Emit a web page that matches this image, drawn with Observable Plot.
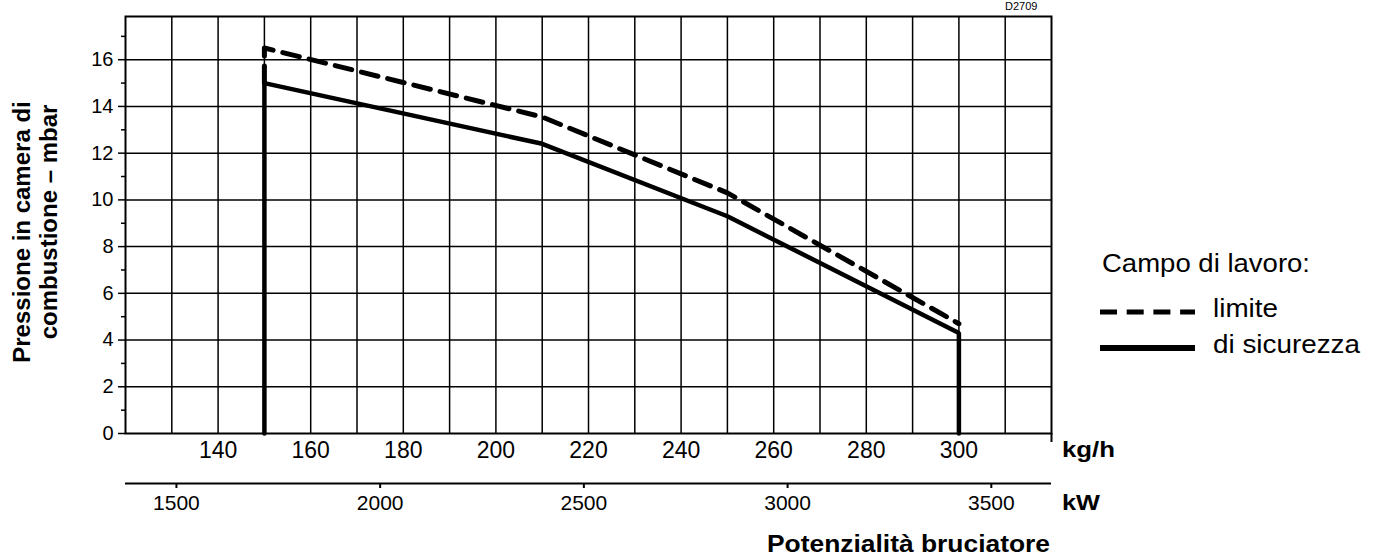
<!DOCTYPE html>
<html>
<head>
<meta charset="utf-8">
<script src="https://cdn.jsdelivr.net/npm/d3@7"></script>
<script src="https://cdn.jsdelivr.net/npm/@observablehq/plot@0.6"></script>
<style>
  html, body { margin: 0; padding: 0; background: #fff; }
  svg { display: block; }
</style>
</head>
<body>
<div id="chart"></div>
<script>
// ---- data ----
const kgTicks = [140, 160, 180, 200, 220, 240, 260, 280, 300];
const kgGrid = [130, 140, 150, 160, 170, 180, 190, 200, 210, 220, 230, 240, 250, 260, 270, 280, 290, 300, 310];
const kwTicks = [1500, 2000, 2500, 3000, 3500];
const kwBase = 1500, kgAtKwBase = 131.0, kgPerKw = 0.0880; // kW scale as drawn under kg/h
const pTicks = [0, 2, 4, 6, 8, 10, 12, 14, 16];
const pMinor = [1, 3, 5, 7, 9, 11, 13, 15, 17];

const limiteX = [150, 150, 210, 250, 300];
const limiteY = [15.0, 16.5, 13.55, 10.3, 4.7];
const sicurezzaX = [150, 150, 210, 250, 300, 300];
const sicurezzaY = [0, 15.0, 12.4, 9.3, 4.3, 0];

const kwToKg = kw => kgAtKwBase + kgPerKw * (kw - kwBase);
const limite = limiteX.map((x, i) => ({x, y: limiteY[i]}));
const sicurezza = sicurezzaX.map((x, i) => ({x, y: sicurezzaY[i]}));
const kwPos = kwTicks.map(kwToKg);

const font = "'Liberation Sans', Arial, Helvetica, sans-serif";

const chart = Plot.plot({
  width: 1379,
  height: 556,
  marginTop: 16,
  marginBottom: 123,
  marginLeft: 125,
  marginRight: 328,
  style: {fontFamily: font, color: "#000", background: "#fff", overflow: "visible"},
  x: {domain: [120, 320]},
  y: {domain: [0, 17.85]},
  marks: [
    Plot.gridX(kgGrid, {stroke: "#000", strokeOpacity: 1, strokeWidth: 1.5}),
    Plot.gridY(pTicks.filter(d => d > 0), {stroke: "#000", strokeOpacity: 1, strokeWidth: 1.5}),
    Plot.line(sicurezza, {x: "x", y: "y", stroke: "#000", strokeWidth: 4.5, strokeLinejoin: "miter"}),
    Plot.line(limite, {x: "x", y: "y", stroke: "#000", strokeWidth: 5, strokeDasharray: "17,10"}),
    Plot.frame({stroke: "#000", strokeWidth: 2}),
    Plot.axisY(pTicks, {tickSize: 7, tickPadding: 5, fontSize: 20, strokeWidth: 1.5, label: null}),
    Plot.axisY(pMinor, {tickSize: 4, tickFormat: () => "", strokeWidth: 1.5, label: null}),
    Plot.axisX(kgTicks, {tickSize: 0, tickPadding: 8, fontSize: 23, label: null}),
    Plot.axisX([320], {tickSize: 9, tickFormat: () => "", strokeWidth: 2, label: null}),
    Plot.ruleY([0], {dy: 50, stroke: "#000", strokeWidth: 2}),
    Plot.axisX(kwPos, {
      dy: 50, tickSize: 5, tickPadding: 7, fontSize: 21, strokeWidth: 2, label: null,
      tickFormat: d => String(kwTicks[kwPos.findIndex(p => Math.abs(p - d) < 1e-6)])
    })
  ]
});

document.getElementById("chart").append(chart);

// ---- titles and legend (layout text) ----
const svg = d3.select(chart);
const g = svg.append("g").attr("font-family", font).attr("fill", "#000");

function label(txt, x, y, opts = {}) {
  const t = g.append("text").attr("x", x).attr("y", y).text(txt)
    .attr("font-size", opts.size || 22)
    .attr("font-weight", opts.bold ? "bold" : "normal")
    .attr("text-anchor", opts.anchor || "start");
  if (opts.len) t.attr("textLength", opts.len).attr("lengthAdjust", "spacingAndGlyphs");
  if (opts.rotate) t.attr("transform", `rotate(-90, ${x}, ${y})`);
  return t;
}

// y title (two rotated lines)
label("Pressione in camera di", 30, 232, {bold: true, size: 24, anchor: "middle", rotate: true});
label("combustione – mbar", 57, 222, {bold: true, size: 24, anchor: "middle", rotate: true});

// x unit labels
label("kg/h", 1062, 457, {bold: true, size: 22, len: 53});
label("kW", 1062, 510, {bold: true, size: 22, len: 38});
label("Potenzialità bruciatore", 767, 552, {bold: true, size: 23, len: 283});

// reference code top right
label("D2709", 1005, 10, {size: 11});

// legend
label("Campo di lavoro:", 1102, 272, {size: 25, len: 208});
g.append("line").attr("x1", 1100).attr("x2", 1195).attr("y1", 312).attr("y2", 312)
  .attr("stroke", "#000").attr("stroke-width", 5).attr("stroke-dasharray", "17,9.7");
label("limite", 1213, 317, {size: 25, len: 65});
g.append("line").attr("x1", 1100).attr("x2", 1195).attr("y1", 348).attr("y2", 348)
  .attr("stroke", "#000").attr("stroke-width", 6);
label("di sicurezza", 1213, 353, {size: 25, len: 147});
</script>
</body>
</html>
